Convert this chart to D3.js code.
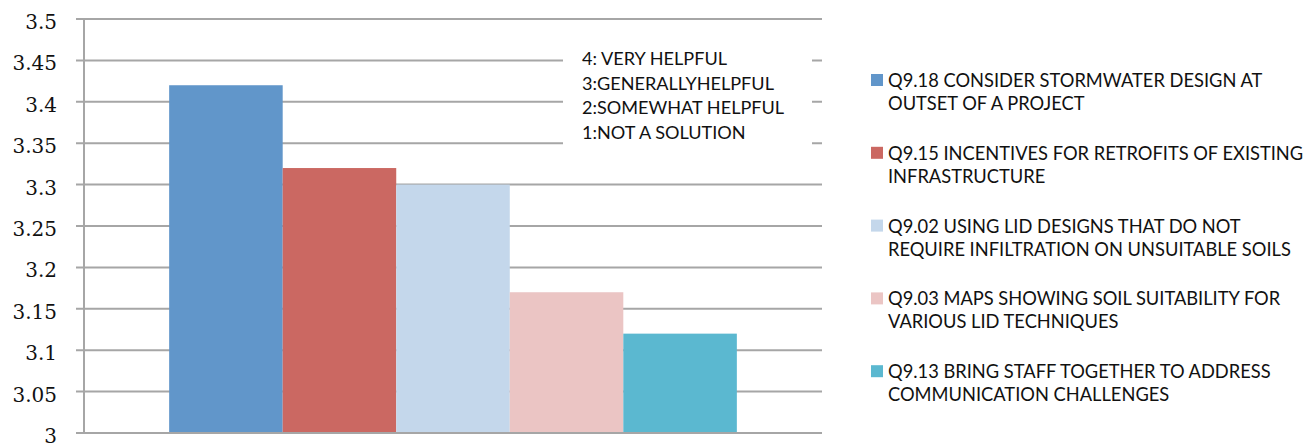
<!DOCTYPE html>
<html><head><meta charset="utf-8">
<script src="https://cdn.jsdelivr.net/npm/d3@7"></script>
<style>body{margin:0;background:#fff}svg{display:block}</style>
</head><body>
<svg id="c" width="1309" height="445"></svg>
<script>
const categories = ["All"];
const seriesNames = ["Q9.18", "Q9.15", "Q9.02", "Q9.03", "Q9.13"];
const seriesValues = [3.42, 3.32, 3.30, 3.17, 3.12];
const seriesColors = ["#6196CA", "#CB6862", "#C4D7EB", "#EBC5C4", "#5BB8D0"];
const legendLines = [
  ["Q9.18 CONSIDER STORMWATER DESIGN AT", "OUTSET OF A PROJECT"],
  ["Q9.15 INCENTIVES FOR RETROFITS OF EXISTING", "INFRASTRUCTURE"],
  ["Q9.02 USING LID DESIGNS THAT DO NOT", "REQUIRE INFILTRATION ON UNSUITABLE SOILS"],
  ["Q9.03 MAPS SHOWING SOIL SUITABILITY FOR", "VARIOUS LID TECHNIQUES"],
  ["Q9.13 BRING STAFF TOGETHER TO ADDRESS", "COMMUNICATION CHALLENGES"]
];
const noteLines = ["4: VERY HELPFUL", "3:GENERALLYHELPFUL", "2:SOMEWHAT HELPFUL", "1:NOT A SOLUTION"];
const yTicks = [3, 3.05, 3.1, 3.15, 3.2, 3.25, 3.3, 3.35, 3.4, 3.45, 3.5];

const svg = d3.select("#c");
const L = 84, R = 822, T = 19, B = 433;
const y = d3.scaleLinear().domain([3, 3.5]).range([B, T]);
const x0 = d3.scaleBand().domain(categories).range([L, R]).paddingOuter(0.15).paddingInner(0);
const x1 = d3.scaleBand().domain(seriesNames).range([0, x0.bandwidth()]).padding(0);
const grid = "#A6A6A6";
const sans = "Lato, 'Open Sans', sans-serif";

// gridlines
svg.append("g").selectAll("line").data(yTicks).join("line")
  .attr("x1", L - 8).attr("x2", R).attr("y1", d => y(d)).attr("y2", d => y(d))
  .attr("stroke", grid).attr("stroke-width", 2);
// y axis line
svg.append("line").attr("x1", L).attr("x2", L).attr("y1", T).attr("y2", B)
  .attr("stroke", grid).attr("stroke-width", 2);

// y labels
svg.append("g").selectAll("text").data(yTicks).join("text")
  .attr("x", 57).attr("y", d => y(d)).attr("dy", "0.5em")
  .attr("text-anchor", "end").attr("font-family", "'DejaVu Serif', serif")
  .attr("font-size", 20).attr("fill", "#111")
  .text(d => d3.format("")(+d.toFixed(2)));

// bars
svg.append("g").selectAll("g").data(categories).join("g")
  .attr("transform", c => `translate(${x0(c)},0)`)
  .selectAll("rect").data(seriesNames.map((s, i) => ({s, v: seriesValues[i], c: seriesColors[i]})))
  .join("rect")
  .attr("x", d => x1(d.s)).attr("width", x1.bandwidth())
  .attr("y", d => y(d.v)).attr("height", d => y(3) - y(d.v))
  .attr("fill", d => d.c);

// bottom axis line over bars
svg.append("line").attr("x1", L - 8).attr("x2", R).attr("y1", B).attr("y2", B)
  .attr("stroke", grid).attr("stroke-width", 2);

// note box
svg.append("rect").attr("x", 563).attr("y", 40).attr("width", 249).attr("height", 110).attr("fill", "#fff");
const note = svg.append("g");
note.selectAll("text").data(noteLines).join("text")
  .attr("x", 582).attr("y", (d, i) => 65 + i * 24.5)
  .attr("font-family", sans).attr("font-size", 18.1).attr("fill", "#111")
  .text(d => d);

// legend
const lg = svg.append("g");
const items = lg.selectAll("g").data(legendLines).join("g")
  .attr("transform", (d, i) => `translate(0,${87 + i * 72.8})`);
items.append("rect").attr("x", 871).attr("y", -13).attr("width", 12).attr("height", 12)
  .attr("fill", (d, i) => seriesColors[i]);
items.selectAll("text").data(d => d).join("text")
  .attr("x", 888).attr("y", (d, j) => j * 23)
  .attr("font-family", sans).attr("font-size", 18.3).attr("fill", "#111")
  .text(d => d);
</script>
</body></html>
